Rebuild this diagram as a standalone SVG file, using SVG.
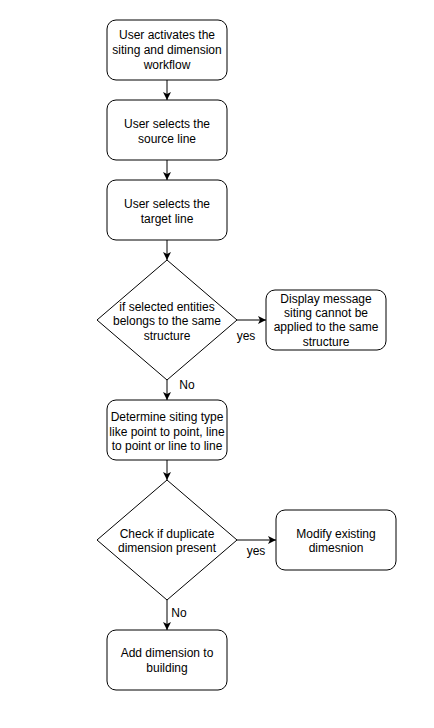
<svg xmlns="http://www.w3.org/2000/svg" width="434" height="728" viewBox="0 0 434 728">
<style>
.n{fill:#fff;stroke:#000;stroke-width:1}
.t{font-family:"Liberation Sans",Arial,sans-serif;font-size:12px;fill:#000;text-anchor:middle}
.e{stroke:#000;stroke-width:1;fill:none;marker-end:url(#a)}
.l{font-family:"Liberation Sans",Arial,sans-serif;font-size:12px;fill:#000;text-anchor:middle}
</style>
<defs>
<marker id="a" viewBox="0 0 10 10" refX="10" refY="5" markerWidth="8" markerHeight="8" markerUnits="userSpaceOnUse" orient="auto">
<path d="M0,0 L10,5 L0,10 L2.5,5 Z" fill="#000"/>
</marker>
</defs>
<rect width="434" height="728" fill="#fff"/>
<g id="connectors">
<path class="e" d="M167,80 V100"/>
<path class="e" d="M167,160 V180"/>
<path class="e" d="M167,240 V260"/>
<path class="e" d="M237,320 H266"/>
<path class="e" d="M167,380 V400"/>
<path class="e" d="M167,460 V480"/>
<path class="e" d="M237,540 H276"/>
<path class="e" d="M167,600 V630"/>
<text class="l" x="246" y="340">yes</text>
<text class="l" x="187" y="389">No</text>
<text class="l" x="256" y="555">yes</text>
<text class="l" x="179" y="617">No</text>
</g>
<g id="n1">
<rect class="n" x="107" y="20" width="120" height="60" rx="9"/>
<text class="t" x="167" y="39">User activates the</text>
<text class="t" x="167" y="54">siting and dimension</text>
<text class="t" x="167" y="69">workflow</text>
</g>
<g id="n2">
<rect class="n" x="107" y="100" width="120" height="60" rx="9"/>
<text class="t" x="167" y="127.5">User selects the</text>
<text class="t" x="167" y="142.5">source line</text>
</g>
<g id="n3">
<rect class="n" x="107" y="180" width="120" height="60" rx="9"/>
<text class="t" x="167" y="207.5">User selects the</text>
<text class="t" x="167" y="222.5">target line</text>
</g>
<g id="d1">
<path class="n" d="M167,260 L237,320 L167,380 L97,320 Z"/>
<text class="t" x="167" y="311">if selected entities</text>
<text class="t" x="167" y="325">belongs to the same</text>
<text class="t" x="167" y="339.5">structure</text>
</g>
<g id="n4">
<rect class="n" x="266" y="290" width="120" height="60" rx="9"/>
<text class="t" x="326" y="302.5">Display message</text>
<text class="t" x="326" y="316.5">siting cannot be</text>
<text class="t" x="326" y="331">applied to the same</text>
<text class="t" x="326" y="345.5">structure</text>
</g>
<g id="n5">
<rect class="n" x="107" y="400" width="120" height="60" rx="9"/>
<text class="t" x="167" y="421">Determine siting type</text>
<text class="t" x="167" y="435.5">like point to point, line</text>
<text class="t" x="167" y="450">to point or line to line</text>
</g>
<g id="d2">
<path class="n" d="M167,480 L237,540 L167,600 L97,540 Z"/>
<text class="t" x="167" y="537.5">Check if duplicate</text>
<text class="t" x="167" y="552">dimension present</text>
</g>
<g id="n6">
<rect class="n" x="276" y="510" width="120" height="60" rx="9"/>
<text class="t" x="336" y="537.5">Modify existing</text>
<text class="t" x="336" y="552">dimesnion</text>
</g>
<g id="n7">
<rect class="n" x="107" y="630" width="120" height="60" rx="9"/>
<text class="t" x="167" y="657">Add dimension to</text>
<text class="t" x="167" y="671.5">building</text>
</g>
</svg>
